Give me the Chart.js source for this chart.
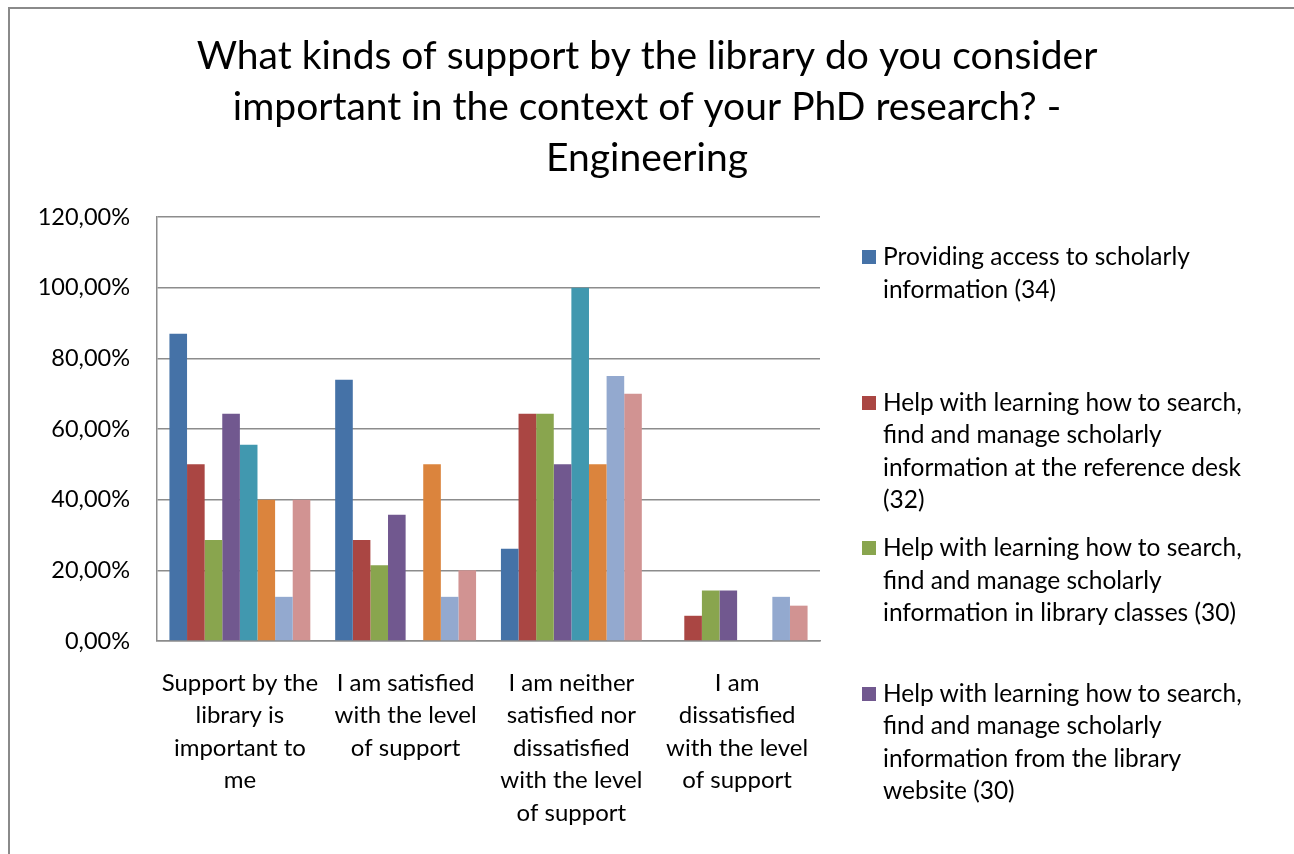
<!DOCTYPE html>
<html>
<head>
<meta charset="utf-8">
<script src="https://cdn.jsdelivr.net/npm/chart.js@4.4.1/dist/chart.umd.min.js"></script>
<style>
  html, body { margin: 0; padding: 0; background: #fff; overflow: hidden; }
  #frame { position: absolute; left: 8px; top: 7px; width: 1400px; height: 900px; border-left: 2px solid #8a8a8a; border-top: 2px solid #8a8a8a; }
  #wrap { position: absolute; left: 0; top: 0; width: 1294px; height: 854px; }
  #legend { position: absolute; left: 862px; top: 240px; width: 420px; font-family: Lato, sans-serif; font-size: 24.5px; line-height: 32.5px; color: #000; }
  .item { position: relative; height: 145.5px; }
  .item .box { position: absolute; left: 0; top: 10px; width: 14px; height: 14px; }
  .item .txt { position: absolute; left: 21px; top: 0; width: 366px; }
</style>
</head>
<body>
<div id="frame"></div>
<div id="wrap"><canvas id="grafico" width="1294" height="854"></canvas></div>
<div id="legend"></div>
<script>
// ======================== DADOS ========================
const titulo = [
    'What kinds of support by the library do you consider',
    'important in the context of your PhD research? -',
    'Engineering',
];
const categorias = [
    ['Support by the', 'library is', 'important to', 'me'],
    ['I am satisfied', 'with the level', 'of support'],
    ['I am neither', 'satisfied nor', 'dissatisfied', 'with the level', 'of support'],
    ['I am', 'dissatisfied', 'with the level', 'of support'],
];
const yTicks = [0, 20, 40, 60, 80, 100, 120];

const nomesSeries = [
    'Providing access to scholarly information (34)',
    'Help with learning how to search, find and manage scholarly information at the reference desk (32)',
    'Help with learning how to search, find and manage scholarly information in library classes (30)',
    'Help with learning how to search, find and manage scholarly information from the library website (30)',
    'Series 5',
    'Series 6',
    'Series 7',
    'Series 8',
];
const cores = ['#4572A7', '#AA4643', '#89A54E', '#71588F', '#4198AF', '#DB843D', '#93A9CF', '#D19392'];

const serie1 = [86.96, 73.91, 26.09, 0];
const serie2 = [50.0, 28.57, 64.29, 7.14];
const serie3 = [28.57, 21.43, 64.29, 14.29];
const serie4 = [64.29, 35.71, 50.0, 14.29];
const serie5 = [55.56, 0, 100.0, 0];
const serie6 = [40.0, 50.0, 50.0, 0];
const serie7 = [12.5, 12.5, 75.0, 12.5];
const serie8 = [40.0, 20.0, 70.0, 10.0];
const series = [serie1, serie2, serie3, serie4, serie5, serie6, serie7, serie8];

// only the first 4 entries fit in the original legend
const itensLegenda = 4;

const FONTE = 'Lato';

// ======================== LEGENDA HTML ========================
const legendaHtml = {
    id: 'legendaHtml',
    afterUpdate(chart) {
        const el = document.getElementById('legend');
        el.innerHTML = chart.data.datasets
            .slice(0, itensLegenda)
            .map(
                (ds) => `
            <div class="item">
                <div class="box" style="background:${ds.backgroundColor}"></div>
                <div class="txt">${ds.label}</div>
            </div>`,
            )
            .join('');
    },
};

// ======================== GRÁFICO ========================
const ctx = document.getElementById('grafico').getContext('2d');
new Chart(ctx, {
    type: 'bar',
    data: {
        labels: categorias,
        datasets: series.map((valores, i) => ({
            label: nomesSeries[i],
            data: valores,
            backgroundColor: cores[i],
            borderWidth: 0,
            categoryPercentage: 0.85,
            barPercentage: 1.0,
        })),
    },
    options: {
        responsive: false,
        animation: false,
        layout: { padding: { top: 0, left: 0, right: 0, bottom: 0 } },
        plugins: {
            legend: { display: false },
            tooltip: { enabled: false },
            title: {
                display: true,
                text: titulo,
                color: '#000',
                font: { family: FONTE, size: 39, weight: 'normal', lineHeight: 51 / 39 },
                padding: { top: 31, bottom: 33 },
            },
        },
        scales: {
            x: {
                grid: { display: false },
                border: { display: true, color: '#8c8c8c', width: 1.5 },
                afterFit(scale) {
                    scale.height = 213;
                },
                ticks: {
                    color: '#000',
                    font: { family: FONTE, size: 24, lineHeight: 32.5 / 24 },
                    maxRotation: 0,
                    autoSkip: false,
                    padding: 18,
                },
            },
            y: {
                min: 0,
                max: 120,
                afterBuildTicks(scale) {
                    scale.ticks = yTicks.map((v) => ({ value: v }));
                },
                afterFit(scale) {
                    scale.width = 157;
                },
                grid: { color: '#8c8c8c', lineWidth: 1.5, drawTicks: false },
                border: { display: true, color: '#8c8c8c', width: 1.5 },
                ticks: {
                    color: '#000',
                    padding: 27,
                    font: { family: FONTE, size: 23.5 },
                    callback: (v) => v.toFixed(2).replace('.', ',') + '%',
                },
            },
            espaco: {
                // empty right-hand axis that reserves the room used by the legend
                type: 'linear',
                position: 'right',
                display: true,
                grid: { display: false },
                border: { display: false },
                ticks: { display: false },
                afterFit(scale) {
                    scale.width = 474;
                },
            },
        },
    },
    plugins: [legendaHtml],
});
</script>
</body>
</html>
